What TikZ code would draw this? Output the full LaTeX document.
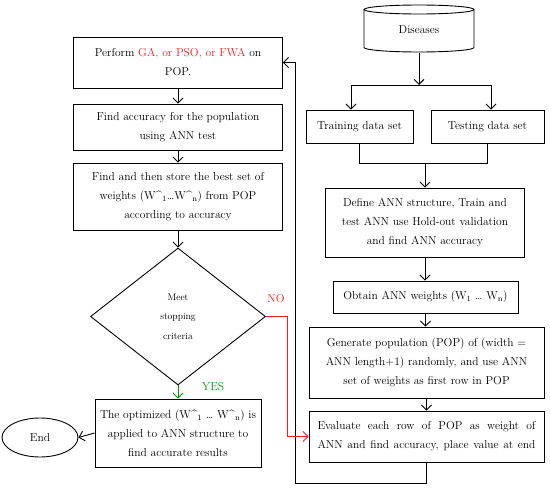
\documentclass[tikz,border=0pt]{standalone}
\usetikzlibrary{arrows.meta,shapes.geometric}
\definecolor{myred}{RGB}{240,30,30}
\definecolor{mygreen}{RGB}{0,150,0}
\newcommand{\wh}[1]{W\textasciicircum\textsubscript{#1}}
\begin{document}
\begin{tikzpicture}[x=1pt,y=-1pt,line width=0.9pt,
  txt/.style={font=\fontsize{11.5}{19}\selectfont},
  box/.style={draw,rectangle,align=center,inner sep=2pt,txt},
  arr/.style={-{Straight Barb[length=5pt,width=10pt]}}]
\useasboundingbox (0,0) rectangle (550,490);
% left column
\node[box,minimum width=209pt,minimum height=51pt] (b1) at (178,62.5) {Perform \textcolor{myred}{GA, or PSO, or FWA} on\\POP.};
\node[box,minimum width=209pt,minimum height=46pt] (b2) at (178,127) {Find accuracy for the population\\using ANN test};
\node[box,minimum width=209pt,minimum height=67pt] (b3) at (178,196.5) {Find and then store the best set of\\weights (\wh{1}\ldots\wh{n}) from POP\\according to accuracy};
\node[draw,diamond,minimum width=175pt,minimum height=137pt,inner sep=0pt,align=center,font=\fontsize{9.5}{19.5}\selectfont] (dia) at (178,316.5) {Meet\\stopping\\criteria};
\node[box,minimum width=166pt,minimum height=68pt] (opt) at (178,433) {The optimized (\wh{1} \ldots\ \wh{n}) is\\applied to ANN structure to\\find accurate results};
\node[draw,ellipse,minimum width=76pt,minimum height=39pt,inner sep=0pt,txt] (end) at (40,437.5) {End};
\node[txt,text=myred,inner sep=0pt] (no) at (276,299) {NO};
\node[txt,text=mygreen,inner sep=0pt] (yes) at (213,387) {YES};
% right column
\node[inner sep=0pt,minimum width=110pt,minimum height=47pt,txt] (dis) at (419,29.5) {Diseases};
\draw (419,9.5) ellipse [x radius=55, y radius=4.5];
\draw (364,9.5) -- (364,47.5) arc[start angle=180,end angle=0,x radius=55,y radius=4.5] -- (474,9.5);
\node[box,minimum width=107pt,minimum height=33pt] (train) at (359.5,126.5) {Training data set};
\node[box,minimum width=113pt,minimum height=33pt] (test) at (487.5,126.5) {Testing data set};
\node[box,minimum width=199pt,minimum height=69pt] (def) at (425,222.5) {Define ANN structure, Train and\\test ANN use Hold-out validation\\and find ANN accuracy};
\node[box,minimum width=185pt,minimum height=32pt] (obt) at (425.5,297) {Obtain ANN weights (W\textsubscript{1} \ldots\ W\textsubscript{n})};
\node[box,minimum width=235pt,minimum height=71pt] (gen) at (426.5,362.5) {Generate population (POP) of (width =\\ANN length+1) randomly, and use ANN\\set of weights as first row in POP};
\node[box,minimum width=235pt,minimum height=51pt] (eval) at (426.5,436.5) {\makebox[218pt][s]{Evaluate each row of POP as weight of}\\\makebox[218pt][s]{ANN and find accuracy, place value at end}};
% connectors right
\coordinate (j1) at (419,85);
\coordinate (jl) at (351,85);
\coordinate (jr) at (491,85);
\draw[arr] (dis.south) -- (j1);
\draw (jl) -- (jr);
\draw[arr] (jl) -- (jl |- train.north);
\draw[arr] (jr) -- (jr |- test.north);
\coordinate (k) at (425,163);
\draw (train.south) -- (train.south |- k) -- (test.south |- k) -- (test.south);
\draw[arr] (k) -- (k |- def.north);
\draw[arr] (def.south) -- (def.south |- obt.north);
\draw[arr] (obt.south) -- (obt.south |- gen.north);
\draw[arr] (gen.south) -- (eval.north);
\coordinate (l1) at (295,483);
\draw[arr] (eval.south) -- (eval.south |- l1) -- (l1) -- (l1 |- b1.east) -- (b1.east);
% connectors left
\draw[arr] (b1.south) -- (b2.north);
\draw[arr] (b2.south) -- (b3.north);
\draw[arr] (b3.south) -- (dia.north);
\draw[arr,mygreen] (dia.south) -- (opt.north);
\draw[arr] (opt.west) -- (end.east);
\coordinate (n1) at (287,0);
\draw[arr,myred] (dia.east) -- (dia.east -| n1) -- (n1 |- eval.west) -- (eval.west);
\end{tikzpicture}
\end{document}
